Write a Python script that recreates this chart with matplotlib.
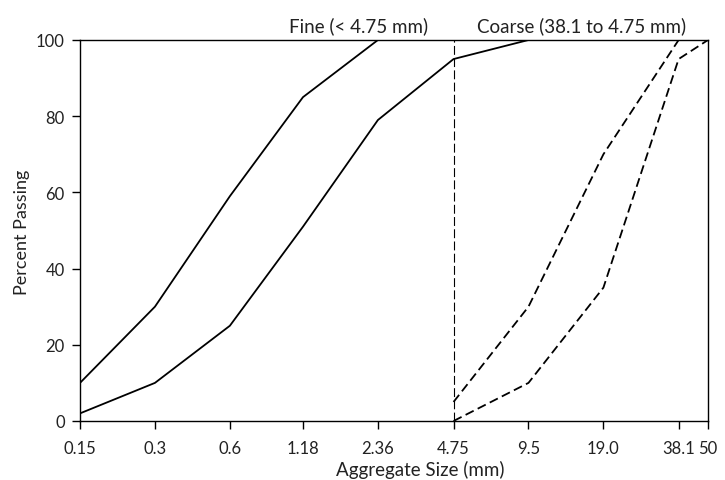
import matplotlib
matplotlib.use("Agg")
import matplotlib.pyplot as plt
from matplotlib.ticker import FixedLocator, FixedFormatter, NullLocator

plt.rcParams['font.family'] = ['Lato', 'DejaVu Sans']

# Data
tick_sizes = [0.15, 0.3, 0.6, 1.18, 2.36, 4.75, 9.5, 19.0, 38.1, 50]
tick_labels = ["0.15", "0.3", "0.6", "1.18", "2.36", "4.75", "9.5", "19.0", "38.1", "50"]

fine_upper_x = [0.15, 0.3, 0.6, 1.18, 2.36, 4.75]
fine_upper_y = [10, 30, 59, 85, 100, 100]
fine_lower_x = [0.15, 0.3, 0.6, 1.18, 2.36, 4.75, 9.5]
fine_lower_y = [2, 10, 25, 51, 79, 95, 100]

coarse_upper_x = [4.75, 9.5, 19.0, 38.1, 50]
coarse_upper_y = [5, 30, 70, 100, 100]
coarse_lower_x = [4.75, 9.5, 19.0, 38.1, 50]
coarse_lower_y = [0, 10, 35, 95, 100]

divider_size = 4.75
y_ticks = [0, 20, 40, 60, 80, 100]

fig = plt.figure(figsize=(7.25, 4.81), dpi=100)
ax = fig.add_axes([80/725, 59/481, 628/725, 381/481])

txt = '#222222'
ax.plot(fine_upper_x, fine_upper_y, color='black', lw=1.3)
ax.plot(fine_lower_x, fine_lower_y, color='black', lw=1.3)
ax.plot(coarse_upper_x, coarse_upper_y, color='black', lw=1.3, dashes=(5, 2.5))
ax.plot(coarse_lower_x, coarse_lower_y, color='black', lw=1.3, dashes=(5, 2.5))
ax.plot([divider_size, divider_size], [0, 100], color='black', lw=0.8, dashes=(8, 3))

ax.set_xscale('log')
ax.set_xlim(0.15, 50)
ax.set_ylim(0, 100)
ax.xaxis.set_major_locator(FixedLocator(tick_sizes))
ax.xaxis.set_major_formatter(FixedFormatter(tick_labels))
ax.xaxis.set_minor_locator(NullLocator())
ax.set_yticks(y_ticks)

for s in ax.spines.values():
    s.set_linewidth(1.0)
    s.set_color('black')

ax.tick_params(axis='both', direction='out', length=6, width=1.0, colors='black',
               labelcolor=txt, labelsize=12)
ax.tick_params(axis='x', pad=8)
ax.tick_params(axis='y', pad=5)

ax.text(0.444, 1.04, "Fine (< 4.75 mm)", transform=ax.transAxes, ha='center',
        va='center', fontsize=13.5, color=txt)
ax.text(0.799, 1.04, "Coarse (38.1 to 4.75 mm)", transform=ax.transAxes, ha='center',
        va='center', fontsize=13.5, color=txt)

fig.text(420/725, 1 - 470/481, "Aggregate Size (mm)", ha='center', va='center',
         fontsize=13.5, color=txt)
fig.text(22/725, 1 - 232/481, "Percent Passing", ha='center', va='center',
         rotation=90, fontsize=13, color=txt)

fig.savefig("out.png", dpi=100)
